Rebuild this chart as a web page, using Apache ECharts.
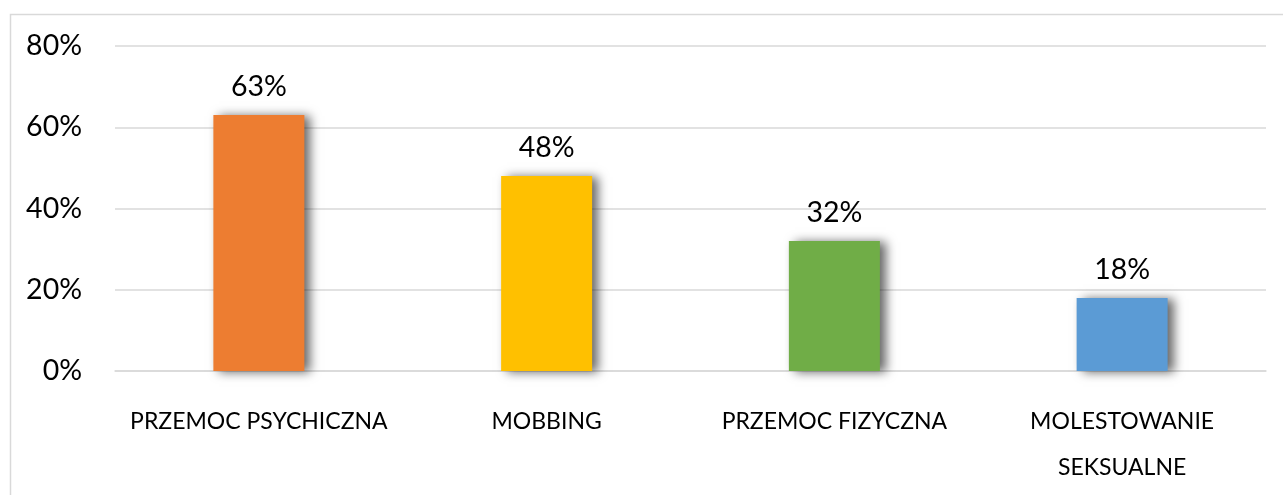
<!DOCTYPE html>
<html><head><meta charset="utf-8">
<script src="https://cdn.jsdelivr.net/npm/echarts@6/dist/echarts.min.js"></script>
<style>html,body{margin:0;padding:0;background:#fff;overflow:hidden}#c{width:1283px;height:495px}</style>
</head><body><div id="c"></div>
<script>
const categories = ['PRZEMOC PSYCHICZNA', 'MOBBING', 'PRZEMOC FIZYCZNA', 'MOLESTOWANIE SEKSUALNE'];
const values = [63, 48, 32, 18];
const colors = ['#ED7D31', '#FFC000', '#70AD47', '#5B9BD5'];
const yTicks = [0, 20, 40, 60, 80];

const chart = echarts.init(document.getElementById('c'));
const font = 'Lato';
chart.setOption({
  animation: false,
  graphic: [{type: 'rect', shape: {x: 10.5, y: 14.5, width: 1300, height: 520}, style: {fill: 'none', stroke: '#d9d9d9', lineWidth: 1.5}, z: -1}],
  grid: {left: 115, right: 17, top: 46, bottom: 124, containLabel: false, outerBoundsMode: 'none'},
  xAxis: {
    type: 'category', data: categories,
    axisLine: {lineStyle: {color: '#d9d9d9', width: 1.5}},
    axisTick: {show: false},
    axisLabel: {interval: 0, hideOverlap: false, color: '#000', fontFamily: font, fontSize: 23, margin: 28, lineHeight: 46,
      formatter: v => v.length > 20 ? v.replace(' ', '\n') : v}
  },
  yAxis: {
    type: 'value', min: yTicks[0], max: yTicks[yTicks.length - 1], interval: 20,
    axisLine: {show: false}, axisTick: {show: false},
    splitLine: {lineStyle: {color: '#d9d9d9', width: 1.5}},
    axisLabel: {color: '#000', fontFamily: font, fontSize: 28.5, margin: 33, formatter: v => v + '%'}
  },
  series: [{
    type: 'bar', barWidth: 91,
    data: values.map((v, i) => ({value: v, itemStyle: {color: colors[i]}})),
    itemStyle: {shadowColor: 'rgba(0,0,0,0.6)', shadowBlur: 10, shadowOffsetX: 6, shadowOffsetY: 1},
    label: {show: true, position: 'top', distance: 14, color: '#000', fontFamily: font, fontSize: 28.5, formatter: p => p.value + '%'}
  }]
});
</script></body></html>
